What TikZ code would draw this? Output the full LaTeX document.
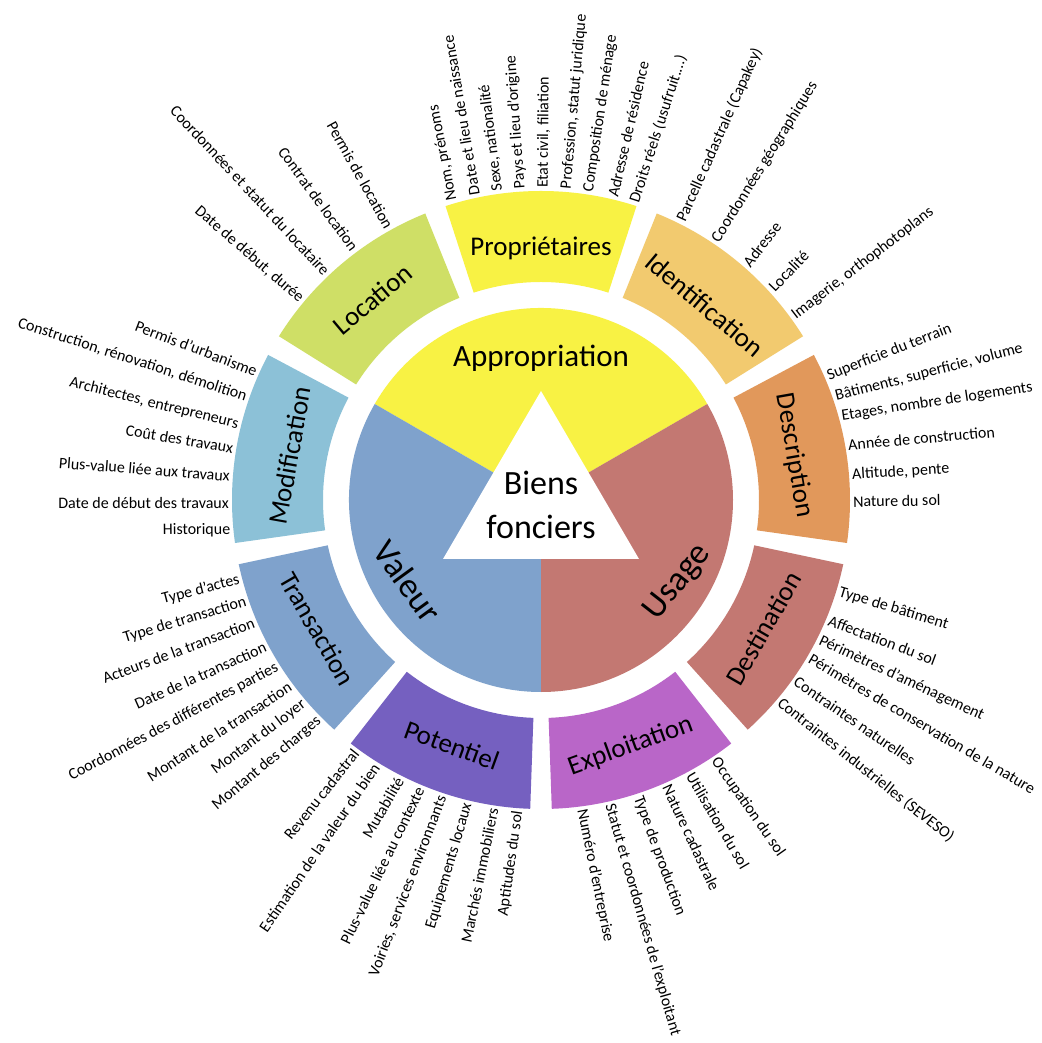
\documentclass[tikz,border=0pt]{standalone}
\usepackage{fontspec}
\setmainfont{Carlito}
\usetikzlibrary{calc}
\definecolor{cApprop}{HTML}{F8F244}
\definecolor{cValeur}{HTML}{7FA2CC}
\definecolor{cUsage}{HTML}{C37872}
\definecolor{cLocation}{HTML}{CFDF66}
\definecolor{cIdent}{HTML}{F2CA6F}
\definecolor{cDescr}{HTML}{E1985B}
\definecolor{cExpl}{HTML}{B966C8}
\definecolor{cPot}{HTML}{7560C0}
\definecolor{cModif}{HTML}{8CC1D7}
\def\ringseg[#1](#2:#3){\fill[#1] (#2:218) arc (#2:#3:218) -- (#3:309) arc (#3:#2:309) -- cycle;}
\tikzset{
	itemtxt/.style={font=\fontsize{16}{19}\selectfont, inner sep=0pt},
	itemL/.style={itemtxt, anchor=east},
	itemR/.style={itemtxt, anchor=west},
	segtxt/.style={font=\fontsize{27}{32}\selectfont, inner sep=0pt},
	coretxt/.style={font=\fontsize{31}{36}\selectfont, inner sep=0pt}
}

\begin{document}
\begin{tikzpicture}[x=1pt, y=1pt]
		%%%%% START %%%%%
		
		\path[use as bounding box, fill=white] (-541, -543) rectangle (500, 500);
		
		\fill[cApprop] (0, 0) -- (30:192) arc (30:150:192) -- cycle;
		\fill[cValeur] (0, 0) -- (150:192) arc (150:270:192) -- cycle;
		\fill[cUsage] (0, 0) -- (270:192) arc (270:390:192) -- cycle;
		\fill[white] (0, 109) -- (98, -59) -- (-98, -59) -- cycle;
		
		\node[align=center, font=\fontsize{34}{44}\selectfont] (biens) at (0, -5) {Biens\\fonciers};
		\node[coretxt] (approp) at (90:142) {Appropriation};
		\node[coretxt, font=\fontsize{35}{40}\selectfont, rotate=-54] (valeur) at (211.5:156) {Valeur};
		\node[coretxt, font=\fontsize{35}{40}\selectfont, rotate=52] (usage) at (329:160) {Usage};
		
		\ringseg[cApprop](72:108)
		\ringseg[cIdent](32:68)
		\ringseg[cDescr](-8:28)
		\ringseg[cUsage](-48:-12)
		\ringseg[cExpl](-88:-52)
		\ringseg[cPot](-128:-92)
		\ringseg[cValeur](-168:-132)
		\ringseg[cModif](152:188)
		\ringseg[cLocation](112:148)
		
		\node[segtxt] (proprio) at (90:252) {Propriétaires};
		\node[segtxt, rotate=-40] (ident) at (50:255) {Identification};
		\node[segtxt, rotate=-80] (descr) at (10:257) {Description};
		\node[segtxt, rotate=60] (destin) at (-30:257) {Destination};
		\node[segtxt, rotate=20] (exploit) at (-70:262) {Exploitation};
		\node[segtxt, rotate=-20] (potent) at (-110:261) {Potentiel};
		\node[segtxt, rotate=-60] (transac) at (-150:258) {Transaction};
		\node[segtxt, rotate=80] (modif) at (170:255) {Modification};
		\node[segtxt, rotate=40] (locat) at (130:262) {Location};
		
		\node[itemR, rotate=101] (p1) at (106.5:312) {Nom, prénoms};
		\node[itemR, rotate=99.5] (p2) at (102.3:312) {Date et lieu de naissance};
		\node[itemR, rotate=97] (p3) at (98:312) {Sexe, nationalité};
		\node[itemR, rotate=94] (p4) at (93.8:312) {Pays et lieu d'origine};
		\node[itemR, rotate=89.5] (p5) at (89.6:312) {Etat civil, filiation};
		\node[itemR, rotate=85] (p6) at (85.3:312) {Profession, statut juridique};
		\node[itemR, rotate=81.5] (p7) at (81.2:312) {Composition de ménage};
		\node[itemR, rotate=77] (p8) at (76.7:312) {Adresse de résidence};
		\node[itemR, rotate=72] (p9) at (72.6:312) {Droits réels (usufruit....)};
		
		\node[itemL, rotate=-61] (l1) at (119.1:312) {Permis de location};
		\node[itemL, rotate=-54] (l2) at (126.6:312) {Contrat de location};
		\node[itemL, rotate=-47] (l3) at (133.3:312) {Coordonnées et statut du locataire};
		\node[itemL, rotate=-41] (l4) at (140.1:312) {Date de début, durée};
		
		\node[itemR, rotate=66] (i1) at (63.3:312) {Parcelle cadastrale (Capakey)};
		\node[itemR, rotate=58] (i2) at (56:312) {Coordonnées géographiques};
		\node[itemR, rotate=52] (i3) at (48.9:312) {Adresse};
		\node[itemR, rotate=46] (i4) at (42.5:312) {Localité};
		\node[itemR, rotate=37.5] (i5) at (36:312) {Imagerie, orthophotoplans};
		
		\node[itemR, rotate=21.5] (d1) at (23.3:312) {Superficie du terrain};
		\node[itemR, rotate=14.5] (d2) at (19.3:312) {Bâtiments, superficie, volume};
		\node[itemR, rotate=8.5] (d3) at (15.6:312) {Etages, nombre de logements};
		\node[itemR, rotate=5] (d4) at (10.2:312) {Année de construction};
		\node[itemR, rotate=3.5] (d5) at (4.6:312) {Altitude, pente};
		\node[itemR, rotate=1] (d6) at (-0.3:312) {Nature du sol};
		
		\node[itemR, rotate=-16.7] (t1) at (-17.2:312) {Type de bâtiment};
		\node[itemR, rotate=-20.5] (t2) at (-22.7:312) {Affectation du sol};
		\node[itemR, rotate=-25] (t3) at (-26.7:312) {Périmètres d'aménagement};
		\node[itemR, rotate=-30.5] (t4) at (-30.4:312) {Périmètres de conservation de la nature};
		\node[itemR, rotate=-34.5] (t5) at (-35.3:312) {Contraintes naturelles};
		\node[itemR, rotate=-38.5] (t6) at (-40.2:312) {Contraintes industrielles (SEVESO)};
		
		\node[itemR, rotate=-55] (e1) at (-56.2:312) {Occupation du sol};
		\node[itemR, rotate=-59.5] (e2) at (-61.4:312) {Utilisation du sol};
		\node[itemR, rotate=-65] (e3) at (-66.2:312) {Nature cadastrale};
		\node[itemR, rotate=-70] (e4) at (-71.9:312) {Type de production};
		\node[itemR, rotate=-74] (e5) at (-77.3:312) {Statut et coordonnées de l'exploitant};
		\node[itemR, rotate=-78.5] (e6) at (-82.5:312) {Numéro d'entreprise};
		
		\node[itemL, rotate=51.5] (v1) at (233.6:312) {Revenu cadastral};
		\node[itemL, rotate=55.5] (v2) at (238.1:312) {Estimation de la valeur du bien};
		\node[itemL, rotate=60] (v3) at (243.1:312) {Mutabilité};
		\node[itemL, rotate=64] (v4) at (247.2:312) {Plus-value liée au contexte};
		\node[itemL, rotate=69] (v5) at (251.6:312) {Voiries, services environnants};
		\node[itemL, rotate=73.5] (v6) at (256.4:312) {Equipements locaux};
		\node[itemL, rotate=78.5] (v7) at (261.2:312) {Marchés immobiliers};
		\node[itemL, rotate=82] (v8) at (265.8:312) {Aptitudes du sol};
		
		\node[itemL, rotate=14.5] (a1) at (194.8:312) {Type d'actes};
		\node[itemL, rotate=17] (a2) at (199:312) {Type de transaction};
		\node[itemL, rotate=20.5] (a3) at (203.1:312) {Acteurs de la transaction};
		\node[itemL, rotate=24] (a4) at (208:312) {Date de la transaction};
		\node[itemL, rotate=28] (a5) at (212.3:312) {Coordonnées des différentes parties};
		\node[itemL, rotate=33] (a6) at (216.5:312) {Montant de la transaction};
		\node[itemL, rotate=37] (a7) at (220.6:312) {Montant du loyer};
		\node[itemL, rotate=40] (a8) at (224.7:312) {Montant des charges};
		
		\node[itemL, rotate=-21] (m1) at (155.7:312) {Permis d'urbanisme};
		\node[itemL, rotate=-18] (m2) at (160.7:312) {Construction, rénovation, démolition};
		\node[itemL, rotate=-14] (m3) at (166:312) {Architectes, entrepreneurs};
		\node[itemL, rotate=-9.5] (m4) at (170.4:312) {Coût des travaux};
		\node[itemL, rotate=-4.5] (m5) at (175.6:312) {Plus-value liée aux travaux};
		\node[itemL, rotate=0] (m6) at (180.5:312) {Date de début des travaux};
		\node[itemL, rotate=0.5] (m7) at (185.5:312) {Historique};
		
		%%%%% END %%%%%
	\end{tikzpicture}
\end{document}
